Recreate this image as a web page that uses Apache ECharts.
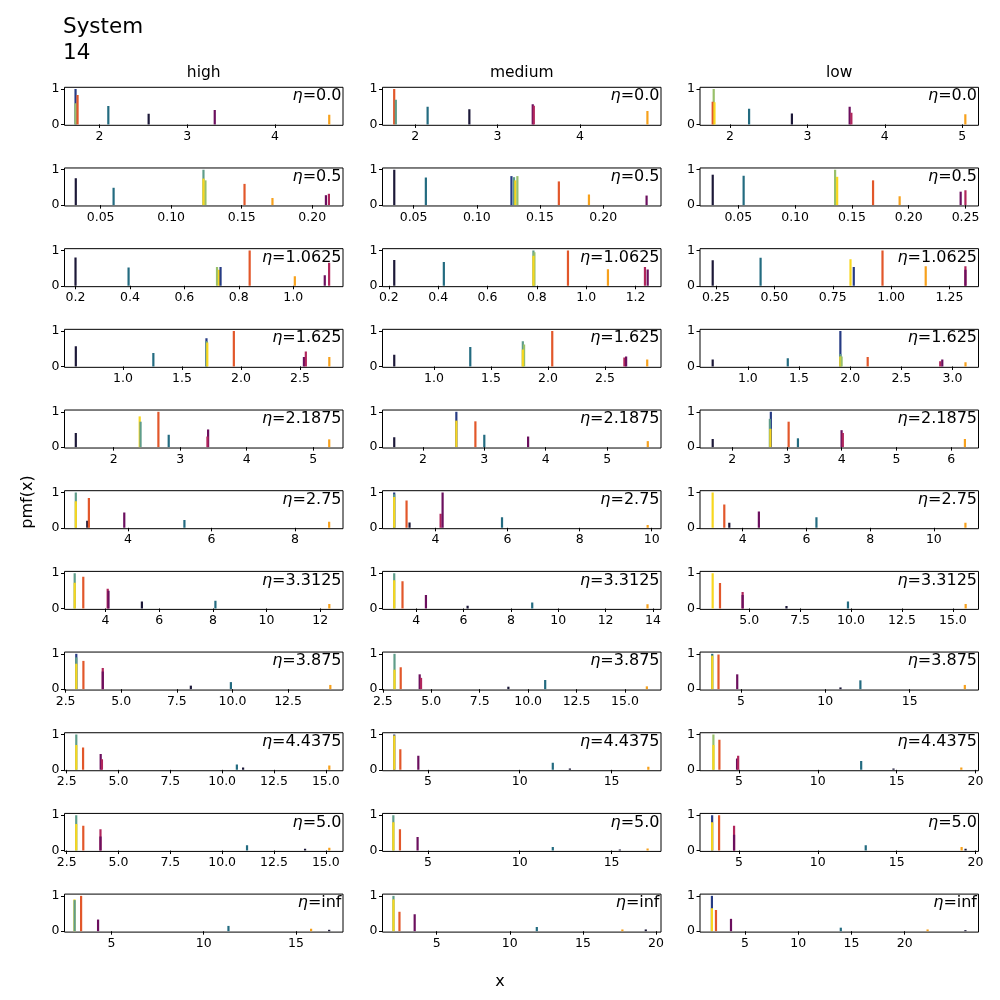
<!DOCTYPE html>
<html><head><meta charset="utf-8">
<script src="https://cdn.jsdelivr.net/npm/echarts@6/dist/echarts.min.js"></script>
<style>html,body{margin:0;padding:0;background:#fff}#c{width:1000px;height:1000px}</style>
</head><body><div id="c"></div>
<script>
// ---- DATA ----
const columns = ["high", "medium", "low"];
const etas = ["0.0","0.5","1.0625","1.625","2.1875","2.75","3.3125","3.875","4.4375","5.0","inf"];
// component keys: k navy, t teal, p purple, c crimson, r red-orange, o orange, y yellow, g light green, s sea green, b blue
// stems: [x, pmf, component]
const eta0_high = [[1.726,1.0,'b'],[1.726,0.6,'g'],[1.749,0.83,'r'],[2.10,0.52,'t'],[2.56,0.30,'k'],[3.314,0.41,'p'],[4.62,0.27,'o']];
const eta0_medium = [[1.744,1.0,'r'],[1.764,0.7,'s'],[2.15,0.5,'t'],[2.657,0.43,'k'],[3.427,0.57,'p'],[3.44,0.53,'c'],[4.82,0.38,'o']];
const eta0_low = [[1.79,1.0,'g'],[1.777,0.64,'r'],[1.80,0.63,'y'],[2.247,0.44,'t'],[2.80,0.31,'k'],[3.546,0.5,'p'],[3.568,0.33,'c'],[5.04,0.29,'o']];

const eta05_high = [[0.0324,0.76,'k'],[0.0592,0.49,'t'],[0.1229,1.0,'s'],[0.1243,0.7,'g'],[0.1229,0.75,'y'],[0.152,0.6,'r'],[0.1718,0.2,'o'],[0.2097,0.28,'p'],[0.2118,0.32,'c']];
const eta05_medium = [[0.0347,1.0,'k'],[0.0597,0.78,'t'],[0.1274,0.82,'b'],[0.1294,0.79,'s'],[0.1305,0.7,'y'],[0.1321,0.82,'g'],[0.1649,0.67,'r'],[0.1887,0.3,'o'],[0.2343,0.27,'p']];
const eta05_low = [[0.0275,0.86,'k'],[0.0547,0.83,'t'],[0.1352,1.0,'g'],[0.137,0.8,'y'],[0.1686,0.7,'r'],[0.192,0.25,'o'],[0.2457,0.38,'p'],[0.2499,0.42,'c']];

const eta10625_high = [[0.2,0.8,'k'],[0.395,0.52,'t'],[0.72,0.53,'g'],[0.727,0.45,'y'],[0.733,0.53,'b'],[0.84,1.0,'r'],[1.006,0.27,'o'],[1.116,0.3,'p'],[1.132,0.65,'c']];
const eta10625_medium = [[0.222,0.73,'k'],[0.423,0.67,'t'],[0.786,1.0,'s'],[0.79,0.95,'g'],[0.786,0.85,'y'],[0.926,1.0,'r'],[1.088,0.47,'o'],[1.238,0.53,'c'],[1.249,0.46,'p']];
const eta10625_low = [[0.236,0.72,'k'],[0.441,0.79,'t'],[0.826,0.75,'y'],[0.84,0.53,'b'],[0.963,1.0,'r'],[1.148,0.55,'o'],[1.318,0.55,'c'],[1.318,0.45,'p']];

const eta1625_high = [[0.601,0.57,'k'],[1.258,0.38,'t'],[1.708,0.8,'b'],[1.708,0.72,'s'],[1.715,0.68,'y'],[1.94,1.0,'r'],[2.534,0.27,'p'],[2.55,0.42,'c'],[2.749,0.27,'o']];
const eta1625_medium = [[0.651,0.33,'k'],[1.318,0.55,'t'],[1.779,0.71,'s'],[1.79,0.62,'g'],[1.779,0.48,'y'],[2.037,1.0,'r'],[2.67,0.25,'c'],[2.685,0.28,'p'],[2.87,0.2,'o']];
const eta1625_low = [[0.656,0.2,'k'],[1.39,0.23,'t'],[1.904,1.0,'b'],[1.904,0.35,'s'],[1.904,0.28,'y'],[1.916,0.28,'g'],[2.171,0.27,'r'],[2.88,0.15,'c'],[2.9,0.2,'p'],[3.127,0.12,'o']];

const eta21875_high = [[1.432,0.4,'k'],[2.392,0.87,'y'],[2.405,0.72,'s'],[2.673,1.0,'r'],[2.828,0.35,'t'],[3.42,0.5,'p'],[3.41,0.3,'c'],[5.24,0.22,'o']];
const eta21875_medium = [[1.534,0.28,'k'],[2.545,1.0,'b'],[2.545,0.75,'y'],[2.855,0.73,'r'],[3.0,0.35,'t'],[3.713,0.3,'p'],[5.661,0.17,'o']];
const eta21875_low = [[1.643,0.23,'k'],[2.705,1.0,'b'],[2.687,0.8,'s'],[2.697,0.52,'y'],[3.03,0.72,'r'],[3.2,0.25,'t'],[3.997,0.48,'p'],[4.02,0.4,'c'],[6.25,0.23,'o']];

const eta275_high = [[2.751,1.0,'s'],[2.751,0.75,'y'],[3.025,0.2,'k'],[3.064,0.84,'r'],[3.912,0.43,'p'],[5.353,0.22,'t'],[8.82,0.17,'o']];
const eta275_medium = [[2.851,1.0,'b'],[2.851,0.95,'s'],[2.851,0.87,'y'],[3.194,0.77,'r'],[3.277,0.15,'k'],[4.14,0.4,'c'],[4.195,1.0,'p'],[5.845,0.3,'t'],[9.89,0.08,'o']];
const eta275_low = [[3.06,1.0,'y'],[3.425,0.66,'r'],[3.582,0.14,'k'],[4.51,0.46,'p'],[6.316,0.3,'t'],[10.99,0.14,'o']];

const eta33125_high = [[2.85,1.0,'s'],[2.85,0.73,'y'],[3.17,0.9,'r'],[4.08,0.56,'c'],[4.11,0.5,'p'],[5.355,0.2,'k'],[8.095,0.22,'t'],[12.34,0.13,'o']];
const eta33125_medium = [[3.07,1.0,'s'],[3.07,0.8,'y'],[3.42,0.77,'r'],[4.41,0.38,'p'],[6.17,0.08,'k'],[8.9,0.17,'t'],[13.77,0.12,'o']];
const eta33125_low = [[3.205,1.0,'y'],[3.565,0.72,'r'],[4.676,0.47,'c'],[4.676,0.38,'p'],[6.83,0.07,'k'],[9.85,0.2,'t'],[15.63,0.13,'o']];

const eta3875_high = [[2.98,1.0,'b'],[2.98,0.9,'s'],[2.98,0.72,'y'],[3.3,0.8,'r'],[4.17,0.6,'c'],[4.17,0.5,'p'],[8.13,0.1,'k'],[9.93,0.2,'t'],[14.4,0.12,'o']];
const eta3875_medium = [[3.1,1.0,'s'],[3.1,0.55,'y'],[3.42,0.62,'r'],[4.4,0.42,'p'],[4.47,0.32,'c'],[8.98,0.07,'k'],[10.88,0.26,'t'],[16.13,0.08,'o']];
const eta3875_low = [[3.3,1.0,'t'],[3.3,0.95,'y'],[3.67,0.98,'r'],[4.78,0.42,'p'],[10.9,0.05,'k'],[12.08,0.25,'t'],[18.27,0.12,'o']];

const eta44375_high = [[2.963,1.0,'s'],[2.963,0.7,'y'],[3.29,0.63,'r'],[4.14,0.45,'p'],[4.2,0.3,'c'],[10.71,0.15,'t'],[11.01,0.07,'k'],[15.17,0.12,'o']];
const eta44375_medium = [[3.17,1.0,'b'],[3.17,0.97,'y'],[3.5,0.58,'r'],[4.48,0.4,'p'],[11.8,0.2,'t'],[12.73,0.04,'k'],[17.0,0.09,'o']];
const eta44375_low = [[3.38,1.0,'g'],[3.38,0.7,'y'],[3.76,0.85,'r'],[4.88,0.32,'p'],[4.95,0.4,'c'],[12.75,0.25,'t'],[14.8,0.04,'k'],[19.1,0.07,'o']];

const eta5_high = [[2.96,1.0,'s'],[2.96,0.75,'y'],[3.3,0.7,'r'],[4.13,0.6,'c'],[4.13,0.4,'p'],[11.2,0.15,'t'],[14.0,0.05,'k'],[15.17,0.08,'o']];
const eta5_medium = [[3.12,1.0,'s'],[3.12,0.8,'y'],[3.48,0.6,'r'],[4.44,0.38,'p'],[11.8,0.1,'t'],[15.45,0.03,'k'],[16.96,0.06,'o']];
const eta5_low = [[3.3,1.0,'b'],[3.3,0.8,'y'],[3.74,1.0,'r'],[4.69,0.7,'c'],[4.69,0.45,'p'],[13.04,0.15,'t'],[19.12,0.1,'o'],[19.37,0.05,'k']];

const etaInf_high = [[2.99,0.9,'y'],[3.0,0.88,'s'],[3.35,1.0,'r'],[4.27,0.33,'p'],[11.34,0.15,'t'],[15.82,0.07,'o'],[16.8,0.04,'k']];
const etaInf_medium = [[2.05,1.0,'s'],[2.05,0.9,'y'],[2.46,0.55,'r'],[3.5,0.48,'p'],[11.85,0.12,'t'],[17.7,0.05,'o'],[19.3,0.05,'k']];
const etaInf_low = [[1.9,1.0,'b'],[1.9,0.65,'y'],[2.28,0.6,'r'],[3.69,0.35,'p'],[14.0,0.1,'t'],[22.15,0.05,'o'],[25.7,0.03,'k']];

// x tick labels per subplot [row][col]
const xTicks = [
  [["2","3","4"],["2","3","4"],["2","3","4","5"]],
  [["0.05","0.10","0.15","0.20"],["0.05","0.10","0.15","0.20"],["0.05","0.10","0.15","0.20","0.25"]],
  [["0.2","0.4","0.6","0.8","1.0"],["0.2","0.4","0.6","0.8","1.0","1.2"],["0.25","0.50","0.75","1.00","1.25"]],
  [["1.0","1.5","2.0","2.5"],["1.0","1.5","2.0","2.5"],["1.0","1.5","2.0","2.5","3.0"]],
  [["2","3","4","5"],["2","3","4","5"],["2","3","4","5","6"]],
  [["4","6","8"],["4","6","8","10"],["4","6","8","10"]],
  [["4","6","8","10","12"],["4","6","8","10","12","14"],["5.0","7.5","10.0","12.5","15.0"]],
  [["2.5","5.0","7.5","10.0","12.5"],["2.5","5.0","7.5","10.0","12.5","15.0"],["5","10","15"]],
  [["2.5","5.0","7.5","10.0","12.5","15.0"],["5","10","15"],["5","10","15","20"]],
  [["2.5","5.0","7.5","10.0","12.5","15.0"],["5","10","15"],["5","10","15","20"]],
  [["5","10","15"],["5","10","15","20"],["5","10","15","20"]]
];
// x axis limits per subplot [row][col]
const xLimits = [
  [[1.6,4.777],[1.602,4.985],[1.613,5.21]],
  [[0.0244,0.2218],[0.0254,0.2457],[0.0163,0.2614]],
  [[0.1595,1.183],[0.1744,1.303],[0.1816,1.374]],
  [[0.505,2.865],[0.548,2.991],[0.532,3.254]],
  [[1.262,5.447],[1.343,5.876],[1.411,6.498]],
  [[2.48,9.152],[2.526,10.26],[2.663,11.4]],
  [[2.47,12.85],[2.575,14.34],[2.583,16.26]],
  [[2.45,14.97],[2.48,16.86],[2.574,19.08]],
  [[2.394,15.83],[2.53,17.69],[2.53,20.19]],
  [[2.394,15.83],[2.53,17.69],[2.53,20.19]],
  [[2.45,17.55],[1.3,20.34],[0.78,26.93]]
];
const yTicks = ["0","1"];
const stems = [
  [eta0_high, eta0_medium, eta0_low],
  [eta05_high, eta05_medium, eta05_low],
  [eta10625_high, eta10625_medium, eta10625_low],
  [eta1625_high, eta1625_medium, eta1625_low],
  [eta21875_high, eta21875_medium, eta21875_low],
  [eta275_high, eta275_medium, eta275_low],
  [eta33125_high, eta33125_medium, eta33125_low],
  [eta3875_high, eta3875_medium, eta3875_low],
  [eta44375_high, eta44375_medium, eta44375_low],
  [eta5_high, eta5_medium, eta5_low],
  [etaInf_high, etaInf_medium, etaInf_low]
];

// ---- STYLE / LAYOUT ----
const palette = {k:'#1c1838', t:'#236b80', p:'#6b0f5e', c:'#b0265c', r:'#e2572a', o:'#f7a11c', y:'#f8d71e', g:'#98c06a', s:'#5f9d8a', b:'#263b84'};
const FONT = 'DejaVu Sans';
const colLeft = [64.5, 382.5, 700];
const plotW = 278.5, plotH = 38;
const rowTop = r => 87.3 + 80.68 * r;

const grids = [], xAxes = [], yAxes = [], series = [], titles = [];
titles.push({text:'System\n14', left:63, top:14, padding:0, textStyle:{fontFamily:FONT, fontSize:21.5, fontWeight:'normal', color:'#000', lineHeight:26}});
columns.forEach((c, ci) => {
  titles.push({text:c, left: colLeft[ci] + plotW/2, top: 65, padding:0, textAlign:'center',
    textStyle:{fontFamily:FONT, fontSize:15.5, fontWeight:'normal', color:'#000'}});
});

let idx = 0;
for (let r = 0; r < etas.length; r++) {
  for (let ci = 0; ci < 3; ci++) {
    const top = rowTop(r);
    grids.push({left: colLeft[ci], top: top, width: plotW, height: plotH, show: true,
      borderColor: '#000', borderWidth: 1, backgroundColor: 'transparent', containLabel: false});
    const labs = xTicks[r][ci];
    const vals = labs.map(Number);
    xAxes.push({type:'value', gridIndex: idx, min: xLimits[r][ci][0], max: xLimits[r][ci][1],
      axisLine:{show:false}, splitLine:{show:false},
      axisTick:{show:true, customValues: vals, length:3.5, lineStyle:{color:'#000', width:1}},
      axisLabel:{show:true, customValues: vals, margin:5, fontFamily:FONT, fontSize:12.5, color:'#000',
        formatter: (v) => { const i = vals.findIndex(u => Math.abs(u - v) < 1e-9); return i >= 0 ? labs[i] : ''; }}
    });
    const yv = yTicks.map(Number);
    yAxes.push({type:'value', gridIndex: idx, min: -0.025, max: 1.05,
      axisLine:{show:false}, splitLine:{show:false},
      axisTick:{show:true, customValues: yv, length:3.5, lineStyle:{color:'#000', width:1}},
      axisLabel:{show:true, customValues: yv, margin:5, fontFamily:FONT, fontSize:12.5, color:'#000',
        formatter: (v) => { const i = yv.findIndex(u => Math.abs(u - v) < 1e-9); return i >= 0 ? yTicks[i] : ''; }}
    });
    series.push({type:'custom', xAxisIndex: idx, yAxisIndex: idx, clip: true, silent: true,
      data: stems[r][ci].map(d => ({value:[d[0], d[1]], itemStyle:{color: palette[d[2]]}})),
      renderItem: (params, api) => {
        const x = api.value(0), h = api.value(1);
        const p0 = api.coord([x, 0]), p1 = api.coord([x, h]);
        return {type:'rect', shape:{x: p0[0] - 1.1, y: p1[1], width: 2.2, height: p0[1] - p1[1]},
          style:{fill: api.visual('color')}};
      }
    });
    titles.push({text: '{i|η}{n|=' + etas[r] + '}', right: 1000 - (colLeft[ci] + plotW) + 1.5, top: top + 1, padding: 0,
      textStyle:{fontWeight:'normal', rich:{i:{fontFamily:FONT, fontStyle:'italic', fontWeight:'normal', fontSize:16, color:'#000'},
                        n:{fontFamily:FONT, fontWeight:'normal', fontSize:16, color:'#000'}}}});
    idx++;
  }
}

const chart = echarts.init(document.getElementById('c'), null, {renderer:'canvas'});
chart.setOption({
  animation: false,
  backgroundColor: '#fff',
  title: titles,
  grid: grids, xAxis: xAxes, yAxis: yAxes, series: series,
  graphic: [
    {type:'text', x: 28, y: 502, rotation: Math.PI/2, style:{text:'pmf(x)', font:'16px "DejaVu Sans"', fill:'#000', textAlign:'center', textVerticalAlign:'middle'}},
    {type:'text', x: 500, y: 982, style:{text:'x', font:'16px "DejaVu Sans"', fill:'#000', textAlign:'center', textVerticalAlign:'middle'}}
  ]
});
</script></body></html>
